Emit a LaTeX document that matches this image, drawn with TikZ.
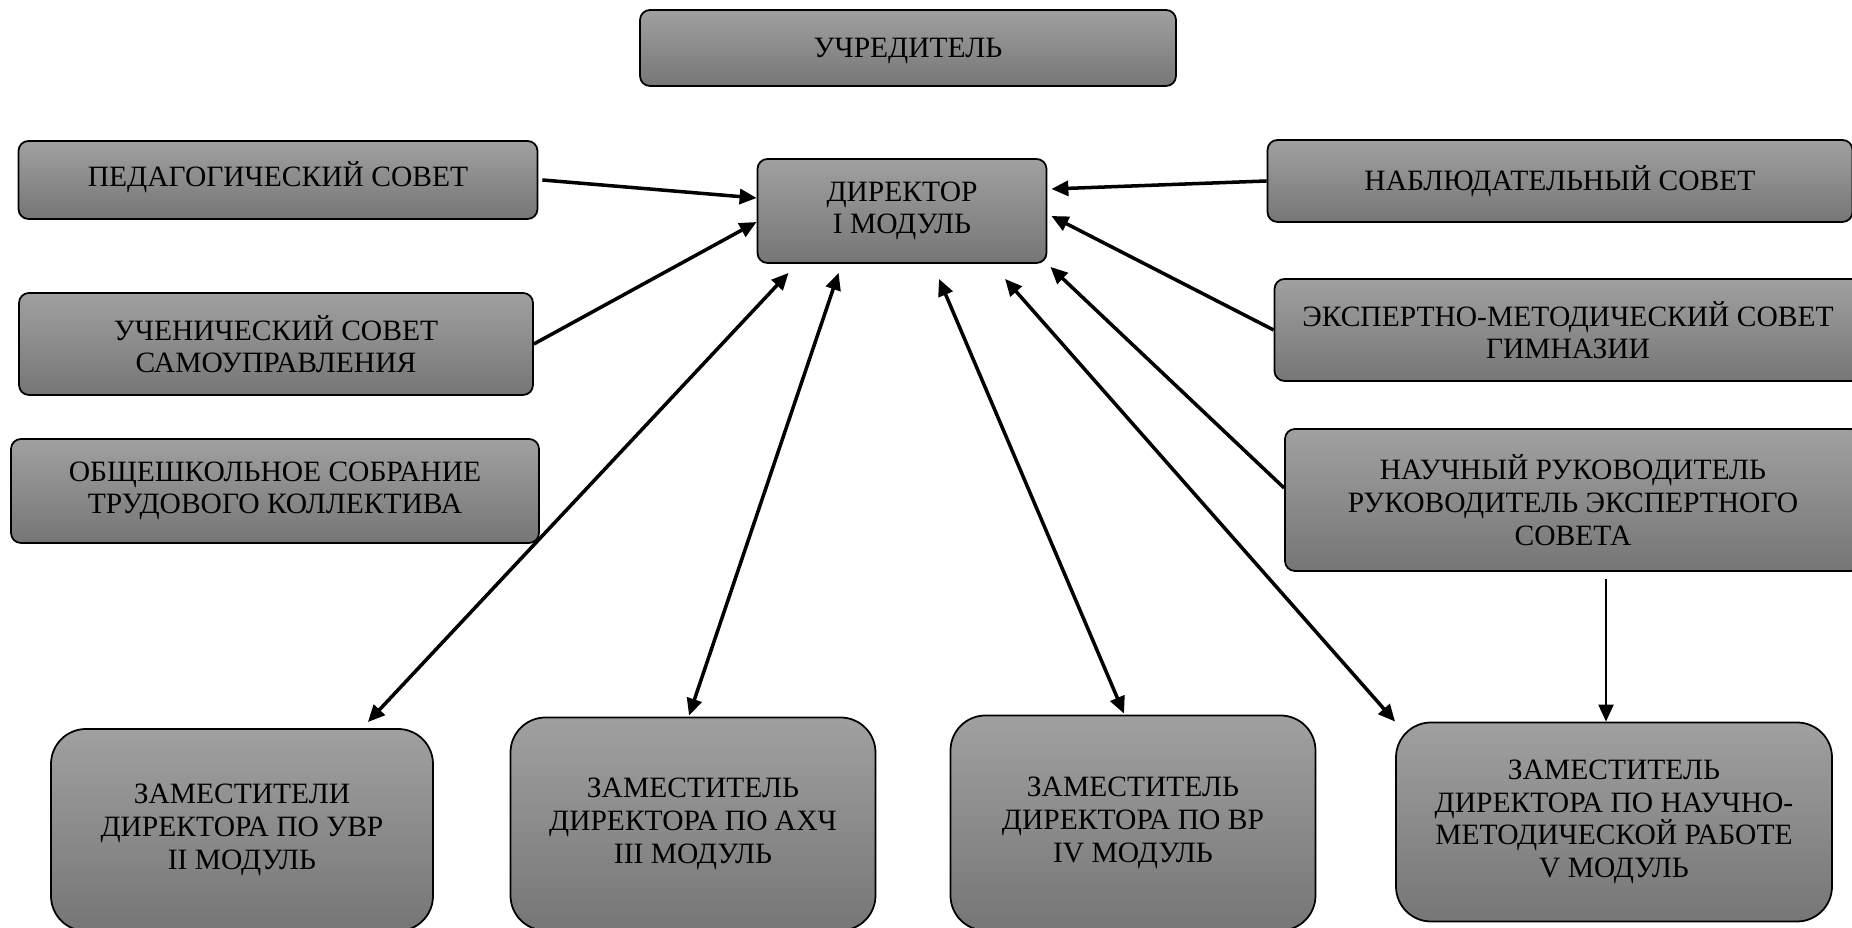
\documentclass[tikz,border=0pt]{standalone}
\usepackage{fontspec}
\setmainfont{Liberation Serif}
\usetikzlibrary{arrows.meta}
\definecolor{boxtop}{RGB}{160,160,160}
\definecolor{boxbot}{RGB}{118,118,118}
\tikzset{
	unit/.style={draw=black, line width=0.5pt, rounded corners=1mm, top color=boxtop, bottom color=boxbot,
		align=center, inner sep=2pt, font=\fontsize{8.4}{9.3}\selectfont},
	deputy/.style={unit, rounded corners=3.5mm},
	link/.style={line width=1pt, -{Triangle[length=1.7mm,width=1.5mm]}},
	both/.style={line width=1pt, {Triangle[length=1.7mm,width=1.5mm]}-{Triangle[length=1.7mm,width=1.5mm]}},
}

\begin{document}
\begin{tikzpicture}
	\clip (0,0) rectangle (18.52,-9.28);
	\node[unit,minimum width=5.36cm,minimum height=0.76cm,text depth=0pt] (founder) at (9.08,-0.48) {УЧРЕДИТЕЛЬ};
	\node[unit,minimum width=2.89cm,minimum height=1.04cm] (dir) at (9.02,-2.11) {ДИРЕКТОР\\I МОДУЛЬ};
	% left side
	\node[unit,minimum width=5.19cm,minimum height=0.78cm,text depth=0.12cm] (ped) at (2.78,-1.80) {ПЕДАГОГИЧЕСКИЙ СОВЕТ};
	\node[unit,minimum width=5.14cm,minimum height=1.02cm] (pupils) at (2.76,-3.44) {УЧЕНИЧЕСКИЙ СОВЕТ\\САМОУПРАВЛЕНИЯ};
	\node[unit,minimum width=5.28cm,minimum height=1.04cm] (staff) at (2.75,-4.91) {ОБЩЕШКОЛЬНОЕ СОБРАНИЕ\\ТРУДОВОГО КОЛЛЕКТИВА};
	% right side
	\node[unit,minimum width=5.85cm,minimum height=0.82cm] (board) at (15.60,-1.81) {НАБЛЮДАТЕЛЬНЫЙ СОВЕТ};
	\node[unit,minimum width=5.87cm,minimum height=1.02cm] (expert) at (15.68,-3.30) {ЭКСПЕРТНО-МЕТОДИЧЕСКИЙ СОВЕТ\\ГИМНАЗИИ};
	\node[unit,minimum width=5.76cm,minimum height=1.42cm] (science) at (15.73,-5.00) {НАУЧНЫЙ РУКОВОДИТЕЛЬ\\РУКОВОДИТЕЛЬ ЭКСПЕРТНОГО\\СОВЕТА};
	% deputies
	\node[deputy,minimum width=3.82cm,minimum height=2.02cm] (uvr) at (2.42,-8.30) {ЗАМЕСТИТЕЛИ\\ДИРЕКТОРА ПО УВР\\II МОДУЛЬ};
	\node[deputy,minimum width=3.65cm,minimum height=2.13cm] (ahch) at (6.93,-8.24) {ЗАМЕСТИТЕЛЬ\\ДИРЕКТОРА ПО АХЧ\\III МОДУЛЬ};
	\node[deputy,minimum width=3.65cm,minimum height=2.15cm] (vr) at (11.33,-8.23) {ЗАМЕСТИТЕЛЬ\\ДИРЕКТОРА ПО ВР\\IV МОДУЛЬ};
	\node[deputy,minimum width=4.36cm,minimum height=1.99cm] (nmr) at (16.14,-8.22) {ЗАМЕСТИТЕЛЬ\\ДИРЕКТОРА ПО НАУЧНО-\\МЕТОДИЧЕСКОЙ РАБОТЕ\\V МОДУЛЬ};

	\draw[link] ([xshift=0.04cm]ped.east) -- ([yshift=0.13cm]dir.west);
	\draw[link] (pupils.east) -- ([yshift=-0.11cm]dir.west);
	\draw[link] (board.west) -- ([shift={(0.04,0.22)}]dir.east);
	\draw[link] (expert.west) -- ([shift={(0.04,-0.05)}]dir.east);
	\draw[link] ([yshift=0.12cm]science.west) -- ([shift={(0.03,-0.03)}]dir.south east);
	\draw[link,line width=0.6pt] ([shift={(-0.08,-0.07)}]science.south -| nmr.north) -- ([xshift=-0.08cm]nmr.north);
	\draw[both] ([shift={(0.32,-0.09)}]dir.south west) -- ([shift={(-0.66,0.06)}]uvr.north east);
	\draw[both] ([shift={(0.82,-0.09)}]dir.south west) -- ([shift={(-0.04,0.01)}]ahch.north);
	\draw[both] ([shift={(0.37,-0.15)}]dir.south) -- ([shift={(-0.09,0.01)}]vr.north);
	\draw[both] ([shift={(1.03,-0.15)}]dir.south) -- (nmr.north west);
\end{tikzpicture}
\end{document}
